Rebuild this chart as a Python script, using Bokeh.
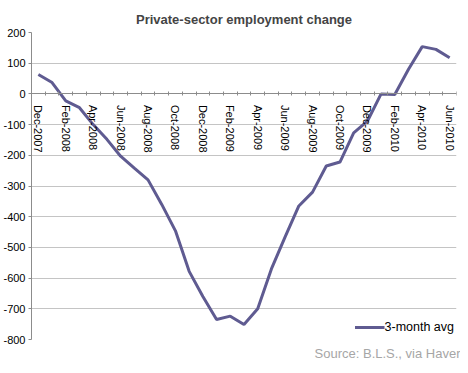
import math
from bokeh.plotting import figure
from bokeh.models import (Range1d, FixedTicker, PrintfTickFormatter, Legend,
                          LegendItem, Title)
from bokeh.embed import file_html
from bokeh.resources import INLINE

months = ["Dec-2007", "Jan-2008", "Feb-2008", "Mar-2008", "Apr-2008", "May-2008",
          "Jun-2008", "Jul-2008", "Aug-2008", "Sep-2008", "Oct-2008", "Nov-2008",
          "Dec-2008", "Jan-2009", "Feb-2009", "Mar-2009", "Apr-2009", "May-2009",
          "Jun-2009", "Jul-2009", "Aug-2009", "Sep-2009", "Oct-2009", "Nov-2009",
          "Dec-2009", "Jan-2010", "Feb-2010", "Mar-2010", "Apr-2010", "May-2010",
          "Jun-2010"]
avg_change = [63, 37, -23, -45, -100, -148, -203, -242, -280, -360, -446, -578,
              -660, -735, -724, -751, -700, -570, -466, -365, -320, -235, -222,
              -127, -89, 0, -2, 80, 154, 145, 118]
y_ticks = [200, 100, 0, -100, -200, -300, -400, -500, -600, -700, -800]
series_name = "3-month avg"
title_text = "Private-sector employment change"
source_text = "Source: B.L.S., via Haver"

n = len(months)
xs = list(range(n))
label_pos = [i for i in xs if i % 2 == 0]
boundaries = [i - 0.5 for i in range(n + 1)]
y_min, y_max = y_ticks[-1], y_ticks[0]

p = figure(width=460, height=365, output_backend="svg", toolbar_location=None,
           x_range=Range1d(-0.5, n - 0.5), y_range=Range1d(y_min, y_max),
           min_border_left=26, min_border_right=4, min_border_top=32,
           min_border_bottom=26)
p.outline_line_color = None
p.background_fill_color = "white"
p.border_fill_color = "white"

p.title.text = title_text
p.title.align = "center"
p.title.vertical_align = "middle"
p.title.text_font = "Liberation Sans"
p.title.text_font_size = "13px"
p.title.text_font_style = "bold"
p.title.offset = -7
p.title.standoff = 10

# y axis
ya = p.yaxis[0]
ya.ticker = FixedTicker(ticks=y_ticks)
ya.formatter = PrintfTickFormatter(format="%d")
ya.major_label_text_font = "Liberation Sans"
ya.major_label_text_font_size = "11px"
ya.major_label_text_color = "black"
ya.major_label_standoff = 3
ya.major_tick_in = 0
ya.major_tick_out = 3
ya.minor_tick_line_color = None
ya.axis_line_color = "#8c8c8c"
ya.major_tick_line_color = "#8c8c8c"

# x axis crossing at zero
xa = p.xaxis[0]
xa.fixed_location = 0
xa.ticker = FixedTicker(ticks=label_pos, minor_ticks=boundaries)
xa.major_label_overrides = {i: months[i] for i in label_pos}
xa.major_label_orientation = -math.pi / 2
xa.major_label_text_font = "Liberation Sans"
xa.major_label_text_font_size = "11px"
xa.major_label_text_color = "black"
xa.major_label_standoff = 5
xa.major_tick_line_color = None
xa.minor_tick_in = 2
xa.minor_tick_out = 2
xa.minor_tick_line_color = "#8c8c8c"
xa.axis_line_color = "#8c8c8c"

p.xgrid.grid_line_color = None
p.ygrid.ticker = FixedTicker(ticks=y_ticks)
p.ygrid.grid_line_color = "#c4c4c4"
p.ygrid.grid_line_width = 1

r = p.line(xs, avg_change, line_color="#5f5b91", line_width=3)

legend = Legend(items=[LegendItem(label=series_name, renderers=[r])],
                location="bottom_right", border_line_color=None,
                background_fill_alpha=0, glyph_width=30, label_standoff=0,
                padding=2, margin=2, label_text_font="Liberation Sans",
                label_text_font_size="12.5px", label_text_color="black")
p.add_layout(legend)

src = Title(text=source_text, align="right", vertical_align="bottom",
            text_font="Liberation Sans", text_font_size="13px",
            text_font_style="normal", text_color="#a6a6a6", offset=-4,
            standoff=8)
p.add_layout(src, "below")

open("out.html", "w").write(file_html(p, INLINE))
